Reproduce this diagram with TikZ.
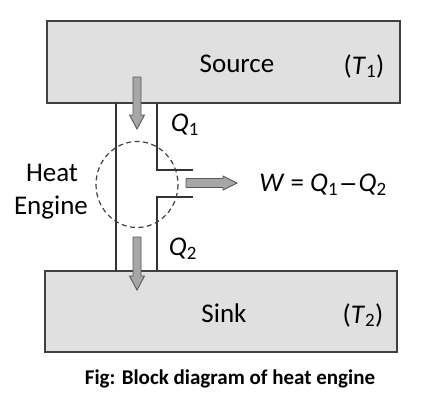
\documentclass[tikz,border=0pt]{standalone}
\usepackage{fontspec}
\setmainfont{Carlito}
\begin{document}
\begin{tikzpicture}[x=1pt,y=-1pt,
  box/.style={draw=black!75,fill=black!12,line width=1.2pt},
  wall/.style={draw=black!80,line width=1.2pt},
  blockarrow/.style={draw=black!65,fill=black!35,line width=0.9pt},
  lbl/.style={inner sep=0pt,font=\fontsize{27}{31}\selectfont},
  captxt/.style={inner sep=0pt,font=\fontsize{21}{25}\selectfont\bfseries}]
\useasboundingbox[fill=white] (0,0) rectangle (438,410);
% boxes
\draw[box] (47,21) rectangle (400,103);
\draw[box] (45,271) rectangle (397,352);
% channel walls
\coordinate (lt) at (116,103); \coordinate (lb) at (116,271);
\draw[wall] (lt) -- (lb);
\draw[wall] (157,103) -- (157,170) -- (193,170);
\draw[wall] (193,197) -- (157,197) -- (157,271);
% dashed circle
\draw[draw=black!75,line width=1.2pt,dash pattern=on 5pt off 3.5pt] (137,184.5) ellipse [x radius=41, y radius=43];
% arrows
\draw[blockarrow] (133,77) -- (141,77) -- (141,115) -- (144.5,115) -- (137,129) -- (129.5,115) -- (133,115) -- cycle;
\draw[blockarrow] (133,237) -- (141,237) -- (141,276) -- (144.5,276) -- (137,290) -- (129.5,276) -- (133,276) -- cycle;
\draw[blockarrow] (186,178.5) -- (223,178.5) -- (223,176) -- (237,183) -- (223,190) -- (223,187.5) -- (186,187.5) -- cycle;
% texts
\node[lbl] (src) at (237,64) {Source};
\node[lbl] (t1) at (364,66) {(\textit{T}\textsubscript{1})};
\node[lbl] (q1) at (185,125) {\textit{Q}\textsubscript{1}};
\node[lbl] (heat) at (52,173) {Heat};
\node[lbl] (eng) at (51,208) {Engine};
\node[lbl] (w) at (323,185) {\textit{W} = \textit{Q}\textsubscript{1}\kern1pt{\fontspec{DejaVu Sans}\fontsize{22}{26}\selectfont −}\kern1pt\textit{Q}\textsubscript{2}};
\node[lbl] (q2) at (183,249) {\textit{Q}\textsubscript{2}};
\node[lbl] (sink) at (224,313) {Sink};
\node[lbl] (t2) at (363,315) {(\textit{T}\textsubscript{2})};
\node[captxt] (caption) at (230,379) {Fig: Block diagram of heat engine};
\end{tikzpicture}
\end{document}
